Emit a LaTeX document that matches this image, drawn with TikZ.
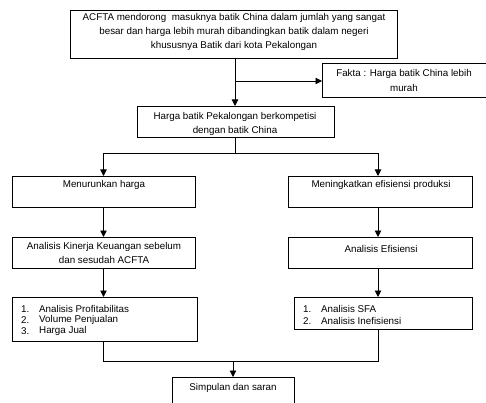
\documentclass[tikz,border=0pt]{standalone}
\usepackage{fontspec}
\setmainfont{Liberation Sans}
\usetikzlibrary{arrows.meta}
\begin{document}
\begin{tikzpicture}[x=1pt,y=-1pt,
  box/.style={draw=black,line width=0.9pt,rectangle,inner sep=0pt,outer sep=0pt},
  txt/.style={inner sep=0pt,align=center,font=\fontsize{9.8}{14}\selectfont},
  ltxt/.style={inner sep=0pt,anchor=west,font=\fontsize{9.8}{12}\selectfont},
  con/.style={line width=0.9pt},
  arr/.style={line width=0.9pt,-{Triangle[width=6.5pt,length=6.5pt]}}]
\useasboundingbox (0,0) rectangle (486,403);
\clip (0,0) rectangle (486,403);
% boxes
\node[box,minimum width=327pt,minimum height=48pt,anchor=north west] (top) at (70,10) {};
\node[box,minimum width=164pt,minimum height=34pt,anchor=north west] (fakta) at (322,63) {};
\node[box,minimum width=197pt,minimum height=31pt,anchor=north west] (box2) at (137,106) {};
\node[box,minimum width=183pt,minimum height=31pt,anchor=north west] (menurun) at (12,176) {};
\node[box,minimum width=184pt,minimum height=31pt,anchor=north west] (efis) at (288,176) {};
\node[box,minimum width=183pt,minimum height=31pt,anchor=north west] (ana1) at (12,237) {};
\node[box,minimum width=184pt,minimum height=31pt,anchor=north west] (ana2) at (288,237) {};
\node[box,minimum width=185pt,minimum height=44pt,anchor=north west] (list1) at (12,297) {};
\node[box,minimum width=178pt,minimum height=32pt,anchor=north west] (list2) at (294,297) {};
\node[box,minimum width=122pt,minimum height=40pt,anchor=north west] (final) at (172,377) {};
% texts
\node[txt] (t-top1) at (234,18) {ACFTA mendorong\ \ masuknya batik China dalam jumlah yang sangat};
\node[txt] (t-top2) at (234,32) {besar dan harga lebih murah dibandingkan batik dalam negeri};
\node[txt] (t-top3) at (234,46) {khususnya Batik dari kota Pekalongan};
\node[txt] (t-f1) at (404,74) {Fakta : Harga batik China lebih};
\node[txt] (t-f2) at (404,88) {murah};
\node[txt] (t-b1) at (235,117) {Harga batik Pekalongan berkompetisi};
\node[txt] (t-b2) at (235,131) {dengan batik China};
\node[txt] (t-m) at (104,185) {Menurunkan harga};
\node[txt] (t-e) at (381,185) {Meningkatkan efisiensi produksi};
\node[txt] (t-a1) at (104,247) {Analisis Kinerja Keuangan sebelum};
\node[txt] (t-a2) at (104,260) {dan sesudah ACFTA};
\node[txt] (t-a3) at (381,249) {Analisis Efisiensi};
\node[ltxt] (n11) at (21,309) {1.};
\node[ltxt] (n12) at (21,320) {2.};
\node[ltxt] (n13) at (21,331) {3.};
\node[ltxt] (i11) at (39,309) {Analisis Profitabilitas};
\node[ltxt] (i12) at (39,320) {Volume Penjualan};
\node[ltxt] (i13) at (39,331) {Harga Jual};
\node[ltxt] (n21) at (303,309) {1.};
\node[ltxt] (n22) at (303,321) {2.};
\node[ltxt] (i21) at (321,309) {Analisis SFA};
\node[ltxt] (i22) at (321,321) {Analisis Inefisiensi};
\node[txt] (t-s) at (233,388) {Simpulan dan saran};
% connectors
\coordinate (c0) at (235,58);
\coordinate (c1) at (235,81);
\coordinate (j1) at (235,153);
\coordinate (j2) at (233,361);
\draw[arr] (c0) -- (box2.north -| c0);
\draw[arr] (c1) -- (fakta.west |- c1);
\draw[con] (box2.south -| j1) -- (j1);
\draw[arr] (j1) -| (menurun.north);
\draw[arr] (j1) -| ([xshift=-2pt]efis.north);
\draw[arr] (menurun.south) -- (ana1.north);
\draw[arr] ([xshift=-2pt]efis.south) -- ([xshift=-2pt]ana2.north);
\draw[arr] (ana1.south) -- (ana1.south |- list1.north);
\draw[arr] ([xshift=-2pt]ana2.south) -- ([xshift=-2pt]ana2.south |- list2.north);
\draw[con] (ana1.south |- list1.south) |- (j2);
\draw[con] ([xshift=-2pt]ana2.south |- list2.south) |- (j2);
\draw[arr] (j2) -- (final.north -| j2);
\end{tikzpicture}
\end{document}
